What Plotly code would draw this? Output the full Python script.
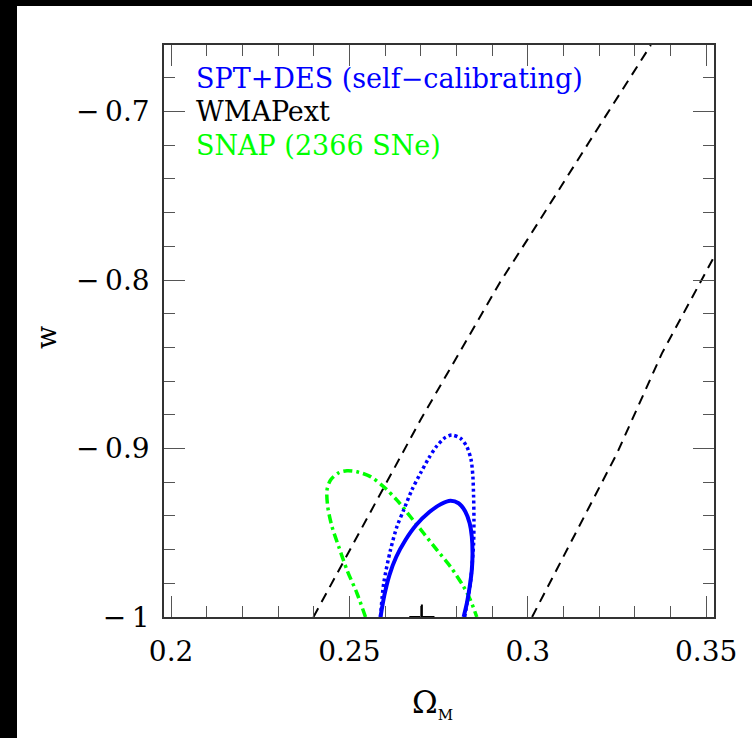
import plotly.graph_objects as go

# ---- tick labels ----
x_tick_vals = [0.20, 0.25, 0.30, 0.35]
x_tick_text = ["0.2", "0.25", "0.3", "0.35"]
y_tick_vals = [-1.0, -0.9, -0.8, -0.7]
y_tick_text = ["\u2212\u20091", "\u2212\u20090.9", "\u2212\u20090.8", "\u2212\u20090.7"]

# ---- WMAPext: the two edges of the degeneracy band ----
wmap_left_om = [0.2399, 0.2547, 0.2699, 0.2923, 0.2998, 0.3171, 0.3345]
wmap_left_w = [-1.000, -0.9424, -0.8831, -0.8010, -0.7763, -0.7184, -0.6605]
wmap_right_om = [0.3012, 0.3250, 0.3376, 0.3520, 0.3560]
wmap_right_w = [-1.000, -0.9029, -0.8435, -0.7871, -0.7714]

# ---- SPT+DES self-calibrating: inner (solid) and outer (dotted) contours ----
spt_in_om = [0.2587, 0.2598, 0.2612, 0.2631, 0.2657, 0.2687, 0.2724, 0.2757,
             0.2783, 0.2806, 0.2825, 0.2837, 0.2843, 0.2845, 0.2843, 0.2837,
             0.2829, 0.2820]
spt_in_w = [-1.000, -0.9869, -0.9751, -0.9644, -0.9543, -0.9454, -0.9377,
            -0.9329, -0.9310, -0.9325, -0.9375, -0.9444, -0.9523, -0.9622,
            -0.9721, -0.9820, -0.9919, -1.000]

spt_out_om = [0.2587, 0.2596, 0.2615, 0.2633, 0.2652, 0.2675, 0.2699, 0.2722,
              0.2745, 0.2769, 0.2787, 0.2811, 0.2829, 0.2841, 0.2846, 0.2848,
              0.2849, 0.2848, 0.2844, 0.2839, 0.2831, 0.2823]
spt_out_w = [-1.000, -0.9800, -0.9602, -0.9464, -0.9365, -0.9246, -0.9147,
             -0.9058, -0.8985, -0.8934, -0.8920, -0.8939, -0.8989, -0.9068,
             -0.9167, -0.9286, -0.9424, -0.9563, -0.9681, -0.9800, -0.9899,
             -1.000]

# ---- SNAP (2366 SNe) contour ----
snap_om = [0.2545, 0.2521, 0.2493, 0.2470, 0.2451, 0.2439, 0.2437, 0.2447,
           0.2470, 0.2493, 0.2521, 0.2559, 0.2596, 0.2633, 0.2671, 0.2708,
           0.2745, 0.2783, 0.2820, 0.2839, 0.2857]
snap_w = [-1.000, -0.9859, -0.9721, -0.9583, -0.9464, -0.9345, -0.9246,
          -0.9187, -0.9144, -0.9132, -0.9138, -0.9167, -0.9227, -0.9306,
          -0.9405, -0.9503, -0.9602, -0.9701, -0.9820, -0.9899, -1.000]

# fiducial model
fid_om = [0.2703]
fid_w = [-1.0]

legend_lines = ["SPT+DES (self\u2212calibrating)", "WMAPext", "SNAP (2366 SNe)"]
legend_colors = ["#0000ff", "#000000", "#00ff00"]

FONT = "DejaVu Serif"
W, H = 752, 738
ML, MR, MT, MB = 164, 38, 45, 121

fig = go.Figure()

for om, w in ((wmap_left_om, wmap_left_w), (wmap_right_om, wmap_right_w)):
    fig.add_trace(go.Scatter(x=om, y=w, mode="lines",
                             line=dict(color="black", width=2, dash="10px,7px"),
                             hoverinfo="skip"))

fig.add_trace(go.Scatter(x=snap_om, y=snap_w, mode="lines",
                         line=dict(color="#00ff00", width=3.5, dash="9px,4px,3px,4px",
                                   shape="spline", smoothing=0.8),
                         hoverinfo="skip"))
fig.add_trace(go.Scatter(x=spt_out_om, y=spt_out_w, mode="lines",
                         line=dict(color="#0000ff", width=3.5, dash="3px,3px",
                                   shape="spline", smoothing=0.8),
                         hoverinfo="skip"))
fig.add_trace(go.Scatter(x=spt_in_om, y=spt_in_w, mode="lines",
                         line=dict(color="#0000ff", width=4,
                                   shape="spline", smoothing=0.8),
                         hoverinfo="skip"))
fig.add_trace(go.Scatter(x=fid_om, y=fid_w, mode="markers",
                         marker=dict(symbol="cross-thin-open", size=18, color="black",
                                     line=dict(color="black", width=2)),
                         hoverinfo="skip"))

axis_common = dict(
    ticks="inside", ticklen=21, tickwidth=1.2, tickcolor="#555",
    showline=True, linecolor="#333", linewidth=1.5, mirror="allticks",
    showgrid=False, zeroline=False,
    tickfont=dict(family=FONT, size=28, color="black"),
)

fig.update_layout(
    width=W, height=H,
    margin=dict(l=ML, r=MR, t=MT, b=MB),
    paper_bgcolor="white", plot_bgcolor="white",
    showlegend=False,
    xaxis=dict(range=[0.198, 0.3522], tickmode="array",
               tickvals=x_tick_vals, ticktext=x_tick_text, ticklabelstandoff=9,
               minor=dict(dtick=0.01, tick0=0.2, ticks="inside", ticklen=11,
                          tickwidth=1.2, tickcolor="#555", showgrid=False),
               **axis_common),
    yaxis=dict(range=[-1.0, -0.6605], tickmode="array",
               tickvals=y_tick_vals, ticktext=y_tick_text, ticklabelstandoff=7,
               minor=dict(dtick=0.02, tick0=-1.0, ticks="inside", ticklen=11,
                          tickwidth=1.2, tickcolor="#555", showgrid=False),
               **axis_common),
)

# black border along the top and left of the page
pw = W - ML - MR
ph = H - MT - MB
fig.add_shape(type="rect", xref="paper", yref="paper", layer="below",
              x0=(-5 - ML) / pw, x1=(17 - ML) / pw,
              y0=(-10 - MB) / ph, y1=(H + 10 - MB) / ph,
              fillcolor="black", line=dict(width=0))
fig.add_shape(type="rect", xref="paper", yref="paper", layer="below",
              x0=(-5 - ML) / pw, x1=(W + 10 - ML) / pw,
              y0=(H - 6 - MB) / ph, y1=(H + 10 - MB) / ph,
              fillcolor="black", line=dict(width=0))

# legend text
for i, (txt, col) in enumerate(zip(legend_lines, legend_colors)):
    ypix = 78 + i * 33.5
    fig.add_annotation(xref="paper", yref="paper",
                       x=(194 - ML) / pw, y=(H - MB - ypix) / ph,
                       xanchor="left", yanchor="middle", showarrow=False,
                       text=txt, font=dict(family=FONT, size=27, color=col))

# axis titles
fig.add_annotation(xref="paper", yref="paper",
                   x=(432 - ML) / pw, y=(H - MB - 704) / ph,
                   xanchor="center", yanchor="middle", showarrow=False,
                   text="\u03a9<sub><span style='font-size:15px'>M</span></sub>",
                   font=dict(family=FONT, size=31, color="black"))
fig.add_annotation(xref="paper", yref="paper",
                   x=(46 - ML) / pw, y=(H - MB - 338) / ph,
                   xanchor="center", yanchor="middle", showarrow=False,
                   textangle=-90, text="w",
                   font=dict(family=FONT, size=27, color="black"))

fig.write_html("out.html")
